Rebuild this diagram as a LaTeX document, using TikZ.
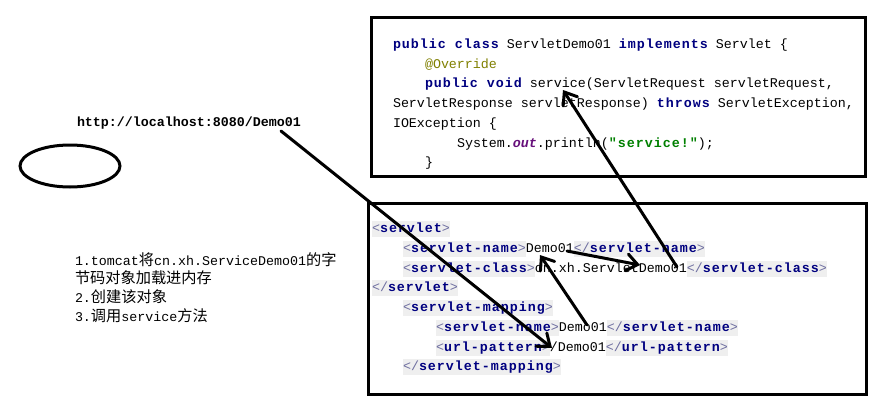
\documentclass[tikz,border=0pt]{standalone}
\usepackage{fontspec}
\usetikzlibrary{arrows.meta,shapes.geometric}
\newfontfamily\codefont{Liberation Mono}[BoldFeatures={LetterSpace=7.5}]
\newfontfamily\urlfont{Liberation Mono}
\newfontfamily\cjkfont{Noto Sans CJK SC}
\definecolor{kwc}{RGB}{0,0,128}
\definecolor{annc}{RGB}{128,128,0}
\definecolor{strc}{RGB}{0,128,0}
\definecolor{fldc}{RGB}{102,14,122}
\definecolor{tagbg}{RGB}{239,239,239}
\definecolor{brkc}{RGB}{110,110,160}
\newcommand\kw[1]{{\bfseries\color{kwc}#1}}
\newcommand\tagbox[1]{{\setlength\fboxsep{0pt}\colorbox{tagbg}{\strut #1}}}
\newcommand\otag[1]{\tagbox{{\color{brkc}<}\kw{#1}{\color{brkc}>}}}
\newcommand\ctag[1]{\tagbox{{\color{brkc}</}\kw{#1}{\color{brkc}>}}}
\newcommand\asc[1]{{\codefont\fontsize{13.33}{16}\selectfont #1}}
\newcommand\zh[1]{{\cjkfont\fontsize{15.2}{18}\selectfont #1}}
\begin{document}
\begin{tikzpicture}[x=1pt,y=-1pt,
  code/.style={anchor=base west, inner sep=0pt, outer sep=0pt,
    font=\codefont\fontsize{13.33}{16}\selectfont},
  note/.style={anchor=base west, inner sep=0pt, outer sep=0pt},
  frame/.style={draw, rectangle, line width=3.5pt, inner sep=0pt, outer sep=0pt},
  link/.style={line width=3pt, line cap=round,
    -{Straight Barb[length=11pt,width=17pt,line cap=round]}},
]
\useasboundingbox (0,0) rectangle (876,405);
\fill[white] (0,0) rectangle (876,405);

% frames
\node[frame, minimum width=494pt, minimum height=159pt] (topbox) at (618.5,97) {};
\node[frame, minimum width=498pt, minimum height=191pt] (botbox) at (617.5,299) {};

% ellipse
\node[draw, ellipse, line width=3pt, minimum width=100pt, minimum height=42pt] (oval) at (70,166) {};

% url
\node[code, font=\urlfont\bfseries\fontsize{13.33}{16}\selectfont] (url) at (77,126) {http://localhost:8080/Demo01};

% steps
\node[note] (s1) at (75,265) {\asc{1.tomcat}\zh{将}\asc{cn.xh.ServiceDemo01}\zh{的字}};
\node[note] (s2) at (75,283) {\zh{节码对象加载进内存}};
\node[note] (s3) at (75,302) {\asc{2.}\zh{创建该对象}};
\node[note] (s4) at (75,321) {\asc{3.}\zh{调用}\asc{service}\zh{方法}};

% java code
\node[code] (j1) at (393,48) {\kw{public class} ServletDemo01 \kw{implements} Servlet \{};
\node[code] (j2) at (425,68) {{\color{annc}@Override}};
\node[code] (j3) at (425,87.5) {\kw{public void} service(ServletRequest servletRequest,};
\node[code] (j4) at (393,107.5) {ServletResponse servletResponse) \kw{throws} ServletException,};
\node[code] (j5) at (393,127) {IOException \{};
\node[code] (j6) at (457,147) {System.{\bfseries\itshape\color{fldc}out}.println({\bfseries\color{strc}"service!"});};
\node[code] (j7) at (425,166.5) {\}};

% xml code
\node[code] (x1) at (372,232.5) {\otag{servlet}};
\node[code] (x2) at (403,252) {\otag{servlet-name}Demo01\ctag{servlet-name}};
\node[code] (x3) at (403,272) {\otag{servlet-class}cn.xh.ServletDemo01\ctag{servlet-class}};
\node[code] (x4) at (372,291.5) {\ctag{servlet}};
\node[code] (x5) at (403,311) {\otag{servlet-mapping}};
\node[code] (x6) at (436,331) {\otag{servlet-name}Demo01\ctag{servlet-name}};
\node[code] (x7) at (436,351) {\otag{url-pattern}/Demo01\ctag{url-pattern}};
\node[code] (x8) at (403,370.5) {\ctag{servlet-mapping}};

% connector ends
\coordinate (a1s) at (281,131);
\coordinate (a1e) at (552,348);
\coordinate (a2s) at (587,325);
\coordinate (a2e) at (540,255);
\coordinate (a3s) at (567,251);
\coordinate (a3e) at (640,265);
\coordinate (a4s) at (677,267);
\coordinate (a4e) at (563,90);

\draw[link] (a1s) -- (a1e);
\draw[link] (a2s) -- (a2e);
\draw[link] (a3s) -- (a3e);
\draw[link] (a4s) -- (a4e);
\end{tikzpicture}
\end{document}
